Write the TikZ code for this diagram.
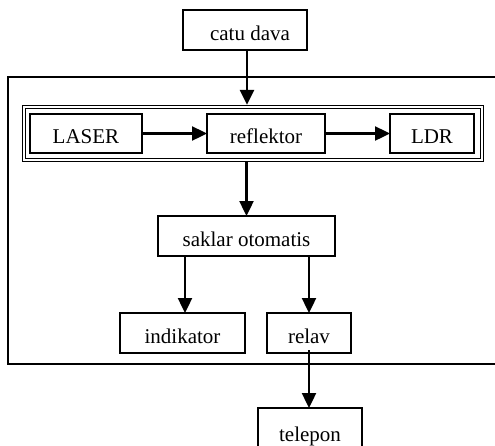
\documentclass[tikz,border=0pt]{standalone}
\usepackage{fontspec}
\setmainfont{Liberation Serif}
\usetikzlibrary{arrows.meta}
\begin{document}
\begin{tikzpicture}[x=1pt,y=-1pt,
  box/.style={draw,line width=1.8pt,rectangle,inner sep=0pt,outer sep=0pt,
    font=\fontsize{21}{25}\selectfont,text height=30pt,text depth=10pt,
    minimum height=40pt},
  lowbox/.style={box,text height=29pt,minimum height=39pt},
  frame/.style={draw,line width=1.8pt,rectangle,inner sep=0pt,outer sep=0pt},
  flow/.style={line width=2.4pt,-{Triangle[length=15pt,width=14pt]}},
]
\useasboundingbox (0,0) rectangle (495,445);

% power supply on top
\node[box,minimum width=124pt] (catu) at (245,30) {\hspace*{10pt}catu dava};

% enclosure of the whole device (open to the right)
\node[frame,minimum width=494pt,minimum height=287pt] (device) at (255,220.5) {};

% sensor block with double border
\node[draw,double,line width=1.3pt,double distance=1.7pt,outer sep=2.15pt,
      inner sep=0pt,minimum width=458pt,minimum height=53pt] (sensor) at (253,133.5) {};
\node[lowbox,minimum width=112pt] (laser) at (86,133.5) {LASER};
\node[lowbox,minimum width=118pt] (refl) at (266,133.5) {reflektor};
\node[lowbox,minimum width=84pt] (ldr) at (432,133.5) {LDR};

% switching stage and outputs
\node[box,minimum width=177pt] (saklar) at (246.5,236) {saklar otomatis};
\node[box,minimum width=125pt] (indik) at (182.5,333) {indikator};
\node[box,minimum width=84pt] (relay) at (309,333) {relav};
\node[box,minimum width=104pt,minimum height=45pt,text height=33pt,text depth=12pt]
  (telepon) at (310,430.5) {telepon};

% connections
\draw[flow] ([xshift=2pt]catu.south) -- ([xshift=2pt]catu.south |- sensor.north);
\draw[flow] (laser) -- (refl);
\draw[flow] (refl) -- (ldr);
\draw[flow] (sensor.south -| saklar.north) -- (saklar.north);
\draw[flow] ([xshift=2.5pt]indik.north |- saklar.south) -- ([xshift=2.5pt]indik.north);
\draw[flow] (relay.north |- saklar.south) -- (relay.north);
\draw[flow] ([yshift=3pt]relay.south) -- (relay.south |- telepon.north);
\end{tikzpicture}
\end{document}
